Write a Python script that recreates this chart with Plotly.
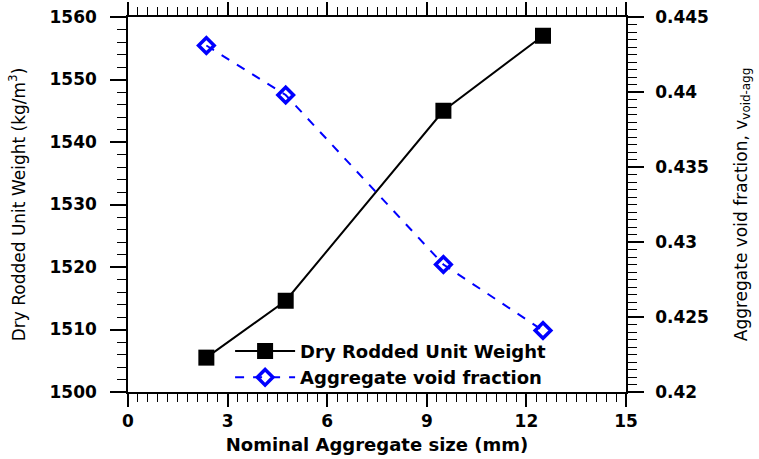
import plotly.graph_objects as go

# Nominal aggregate sizes (mm)
agg_size = [2.36, 4.75, 9.5, 12.5]
# Dry rodded unit weight (kg/m3)
unit_weight = [1505.5, 1514.6, 1545.0, 1557.0]
# Aggregate void fraction
void_fraction = [0.4431, 0.4398, 0.4285, 0.4241]

x_ticks = [0, 3, 6, 9, 12, 15]
y1_ticks = [1500, 1510, 1520, 1530, 1540, 1550, 1560]
y2_ticks = [0.42, 0.425, 0.43, 0.435, 0.44, 0.445]
y2_labels = ["0.42", "0.425", "0.43", "0.435", "0.44", "0.445"]

tick_font = dict(family="DejaVu Sans", size=17, color="black", weight="bold")
title_font = dict(family="DejaVu Sans", size=17, color="black")

fig = go.Figure()

fig.add_trace(go.Scatter(
    x=agg_size, y=unit_weight, name="Dry Rodded Unit Weight",
    mode="lines+markers",
    line=dict(color="black", width=2),
    marker=dict(symbol="square", size=16, color="black"),
    yaxis="y",
))

fig.add_trace(go.Scatter(
    x=agg_size, y=void_fraction, name="Aggregate void fraction",
    mode="lines+markers",
    line=dict(color="#0000ff", width=2, dash="dash"),
    marker=dict(symbol="diamond-open", size=12, color="#0000ff",
                line=dict(width=3.5, color="#0000ff")),
    yaxis="y2",
))

axis_common = dict(
    showgrid=False, zeroline=False, showline=True, linecolor="black",
    linewidth=1.5, ticks="outside", tickcolor="black", tickwidth=1.5,
    tickfont=tick_font, automargin=False,
)

fig.update_layout(
    width=759, height=459,
    margin=dict(l=128, r=133, t=17, b=67),
    plot_bgcolor="white", paper_bgcolor="white",
    showlegend=True,
    legend=dict(
        x=0.205, y=-0.01, xanchor="left", yanchor="bottom",
        bgcolor="rgba(0,0,0,0)",
        font=dict(family="DejaVu Sans", size=18, color="black", weight="bold"),
        tracegroupgap=0, itemwidth=60,
    ),
    xaxis=dict(
        **axis_common,
        range=[0, 15], tickvals=x_ticks, ticklen=13,
        mirror="ticks",
        minor=dict(dtick=0.3, ticklen=8, tickwidth=1.2, tickcolor="black", ticks="outside"),
        title=dict(text="<b>Nominal Aggregate size (mm)</b>",
                   font=dict(family="DejaVu Sans", size=18, color="black"), standoff=8),
    ),
    yaxis=dict(
        **axis_common,
        range=[1500, 1560], tickvals=y1_ticks, ticklen=16,
        ticklabelstandoff=10,
        minor=dict(dtick=2, ticklen=9, tickwidth=1.2, tickcolor="black", ticks="outside"),
        title=dict(text="Dry Rodded Unit Weight (kg/m<sup>3</sup>)",
                   font=title_font, standoff=20),
    ),
    yaxis2=dict(
        **axis_common,
        overlaying="y", side="right",
        range=[0.42, 0.445], tickvals=y2_ticks, ticktext=y2_labels, ticklen=16,
        ticklabelstandoff=8,
        minor=dict(dtick=0.0005, ticklen=9, tickwidth=1.2, tickcolor="black", ticks="outside"),
        title=dict(text="Aggregate void fraction, v<sub>void-agg</sub>",
                   font=title_font, standoff=27),
    ),
)

fig.write_html("out.html")
